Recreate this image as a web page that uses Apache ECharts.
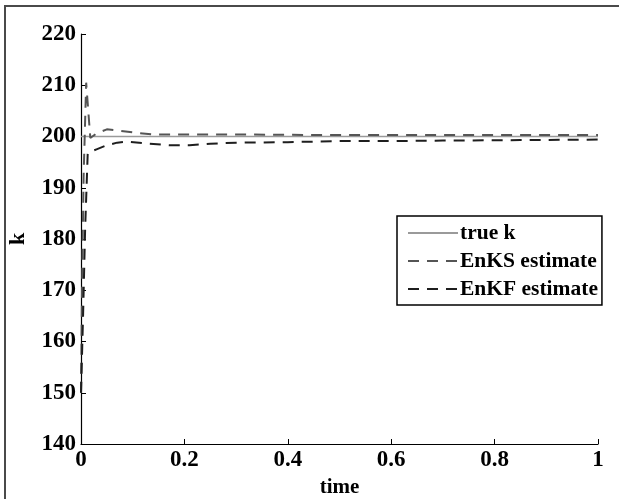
<!DOCTYPE html>
<html>
<head>
<meta charset="utf-8">
<script src="https://cdn.jsdelivr.net/npm/echarts@6/dist/echarts.min.js"></script>
<style>
  html, body { margin: 0; padding: 0; background: #fff; }
  #chart { width: 619px; height: 499px; }
</style>
</head>
<body>
<div id="chart"></div>
<script>
// Parameter estimate k over time
const trueTime = [0, 1];
const trueK = [200, 200];

const enksTime = [0, 0.002, 0.005, 0.01, 0.018, 0.03, 0.05, 0.075, 0.1, 0.14, 0.2, 0.3, 0.45, 0.6, 0.8, 1.0];
const enksK = [150, 170, 192, 210.5, 199.7, 200.6, 201.4, 201.1, 200.8, 200.4, 200.4, 200.4, 200.3, 200.3, 200.3, 200.3];

const enkfTime = [0, 0.004, 0.008, 0.013, 0.03, 0.05, 0.07, 0.09, 0.13, 0.17, 0.21, 0.25, 0.3, 0.4, 0.5, 0.6, 0.7, 0.85, 1.0];
const enkfK = [150, 165, 182, 196.8, 197.5, 198.3, 198.8, 199.0, 198.6, 198.3, 198.3, 198.6, 198.8, 198.9, 199.1, 199.1, 199.2, 199.3, 199.4];

const xTicks = [0, 0.2, 0.4, 0.6, 0.8, 1];
const yTicks = [140, 150, 160, 170, 180, 190, 200, 210, 220];

const zip = (a, b) => a.map((t, i) => [t, b[i]]);
const FONT = '"Liberation Serif", "Times New Roman", serif';

const chart = echarts.init(document.getElementById('chart'), null, { renderer: 'canvas' });
chart.setOption({
  animation: false,
  backgroundColor: '#fff',
  grid: { left: 81, right: 21, top: 34, bottom: 55, containLabel: false, outerBoundsMode: 'none' },
  graphic: [{
    type: 'rect',
    shape: { x: 5, y: 6, width: 800, height: 800 },
    style: { fill: 'none', stroke: '#4a4a4a', lineWidth: 2 },
    silent: true
  }],
  legend: {
    orient: 'vertical',
    left: 397,
    top: 216,
    padding: [6, 4, 5, 10],
    itemGap: 6,
    itemWidth: 50,
    itemHeight: 24,
    borderColor: '#000',
    borderWidth: 1.5,
    backgroundColor: '#fff',
    itemStyle: { opacity: 0 },
    textStyle: { fontFamily: FONT, fontWeight: 'bold', fontSize: 21.5, color: '#000', padding: [0, 0, 0, -3] },
    data: ['true k', 'EnKS estimate', 'EnKF estimate']
  },
  xAxis: {
    type: 'value',
    min: 0, max: 1, interval: 0.2,
    name: 'time',
    nameLocation: 'middle',
    nameGap: 30,
    nameTextStyle: { fontFamily: FONT, fontWeight: 'bold', fontSize: 21, color: '#000' },
    axisLine: { lineStyle: { color: '#000', width: 1.2 } },
    axisTick: { inside: true, length: 5, lineStyle: { color: '#000' } },
    axisLabel: {
      fontFamily: FONT, fontWeight: 'bold', fontSize: 23, color: '#000', margin: 5,
      formatter: v => xTicks.includes(+v.toFixed(1)) ? String(+v.toFixed(1)) : ''
    },
    splitLine: { show: false }
  },
  yAxis: {
    type: 'value',
    min: 140, max: 220, interval: 10,
    name: 'k',
    nameLocation: 'middle',
    nameGap: 52,
    nameRotate: 90,
    nameTextStyle: { fontFamily: FONT, fontWeight: 'bold', fontSize: 22, color: '#000' },
    axisLine: { show: true, lineStyle: { color: '#000', width: 1.2 } },
    axisTick: { show: true, inside: true, length: 5, lineStyle: { color: '#000' } },
    axisLabel: {
      fontFamily: FONT, fontWeight: 'bold', fontSize: 23, color: '#000', margin: 5,
      formatter: v => yTicks.includes(v) ? String(v) : ''
    },
    splitLine: { show: false }
  },
  series: [
    {
      name: 'true k',
      type: 'line',
      data: zip(trueTime, trueK),
      showSymbol: false,
      symbol: 'none',
      lineStyle: { color: '#9a9a9a', width: 1.6, type: 'solid' },
      itemStyle: { color: '#9a9a9a' }
    },
    {
      name: 'EnKS estimate',
      type: 'line',
      data: zip(enksTime, enksK),
      showSymbol: false,
      symbol: 'none',
      lineStyle: { color: '#555', width: 2, type: [11, 8] },
      itemStyle: { color: '#555' }
    },
    {
      name: 'EnKF estimate',
      type: 'line',
      data: zip(enkfTime, enkfK),
      showSymbol: false,
      symbol: 'none',
      lineStyle: { color: '#1e1e1e', width: 2, type: [11, 8] },
      itemStyle: { color: '#1e1e1e' }
    }
  ]
});
</script>
</body>
</html>
